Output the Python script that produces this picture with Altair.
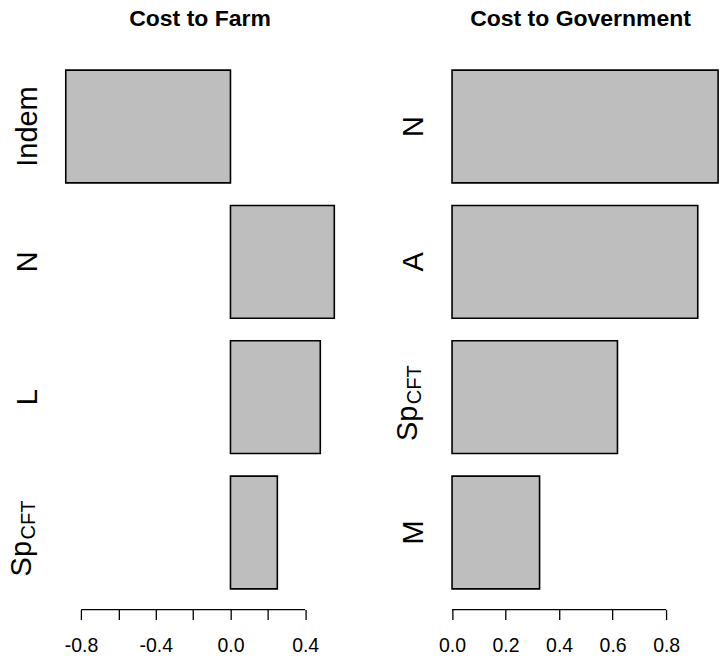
import altair as alt
import pandas as pd

FONT = "Liberation Sans"

# ---- data ----
farm_cats = ["Indem", "N", "L", "SpCFT"]
farm_main = ["Indem", "N", "L", "Sp"]
farm_sub = ["", "", "", "CFT"]
farm_vals = [-0.882, 0.556, 0.481, 0.251]
farm_ticks = [-0.8, -0.6, -0.4, -0.2, 0.0, 0.2, 0.4]
farm_tick_labels = ["-0.8", "", "-0.4", "", "0.0", "", "0.4"]
farm_domain = [-0.940, 0.614]

gov_cats = ["N", "A", "SpCFT", "M"]
gov_main = ["N", "A", "Sp", "M"]
gov_sub = ["", "", "CFT", ""]
gov_vals = [0.994, 0.918, 0.618, 0.327]
gov_ticks = [0.0, 0.2, 0.4, 0.6, 0.8]
gov_tick_labels = ["0.0", "0.2", "0.4", "0.6", "0.8"]
gov_domain = [-0.0398, 1.0]

H = 561


def panel(title, cats, main, sub, vals, ticks, tick_labels, domain, width):
    df = pd.DataFrame({"cat": cats, "main": main, "sub": sub, "value": vals})
    label_expr = "[" + ",".join("'%s'" % s for s in tick_labels) + "][indexof([" + \
        ",".join(repr(t) for t in ticks) + "], datum.value)]"
    xscale = alt.Scale(domain=domain, nice=False, zero=False)
    yscale = alt.Scale(domain=cats, paddingInner=0.2 / 1.2, paddingOuter=0.1533)
    xaxis = alt.Axis(values=ticks, labelExpr=label_expr, title=None, grid=False,
                     domain=False, tickSize=10, tickColor="black", tickWidth=1.3,
                     labelFont=FONT, labelFontSize=19.5, labelColor="black",
                     labelPadding=17, labelFlush=False, labelOverlap=False)
    base = alt.Chart(df)
    bars = base.mark_bar(color="#bebebe", stroke="black", strokeWidth=1.6).encode(
        x=alt.X("value:Q", scale=xscale, axis=xaxis, stack=None),
        x2=alt.datum(0),
        y=alt.Y("cat:N", scale=yscale, axis=None, sort=cats),
    )
    plain = base.transform_filter("datum.sub == ''").mark_text(
        angle=270, align="center", baseline="alphabetic", font=FONT,
        fontSize=29, color="black").encode(
        x=alt.value(-18),
        y=alt.Y("cat:N", scale=yscale, axis=None, sort=cats),
        text="main:N",
    )
    sp_main = base.transform_filter("datum.sub != ''").mark_text(
        angle=270, align="left", baseline="alphabetic", font=FONT,
        fontSize=29, color="black", dx=-44).encode(
        x=alt.value(-24),
        y=alt.Y("cat:N", scale=yscale, axis=None, sort=cats),
        text="main:N",
    )
    sp_sub = base.transform_filter("datum.sub != ''").mark_text(
        angle=270, align="left", baseline="alphabetic", font=FONT,
        fontSize=20, color="black", dx=-7).encode(
        x=alt.value(-20),
        y=alt.Y("cat:N", scale=yscale, axis=None, sort=cats),
        text="sub:N",
    )
    axis_line = alt.Chart(alt.Data(values=[{"a": 1}])).mark_rule(
        color="black", strokeWidth=1.3).encode(
        x=alt.datum(ticks[0], scale=xscale),
        x2=alt.datum(ticks[-1]),
        y=alt.value(H),
    )
    return alt.layer(bars, plain, sp_main, sp_sub, axis_line).properties(
        width=width, height=H,
        title=alt.TitleParams(title, font=FONT, fontSize=23, fontWeight="bold",
                              color="black", anchor="middle", frame="group",
                              baseline="alphabetic", offset=0),
    )


left = panel("Cost to Farm", farm_cats, farm_main, farm_sub, farm_vals,
             farm_ticks, farm_tick_labels, farm_domain, 290.6)
right = panel("Cost to Government", gov_cats, gov_main, gov_sub, gov_vals,
              gov_ticks, gov_tick_labels, gov_domain, 278.7)

chart = alt.hconcat(left, right, spacing=96, bounds="flush").properties(
    padding=0
).configure_view(stroke=None).resolve_scale(x="independent", y="independent")

chart.save("out.html", embed_options={"renderer": "svg", "actions": False})
